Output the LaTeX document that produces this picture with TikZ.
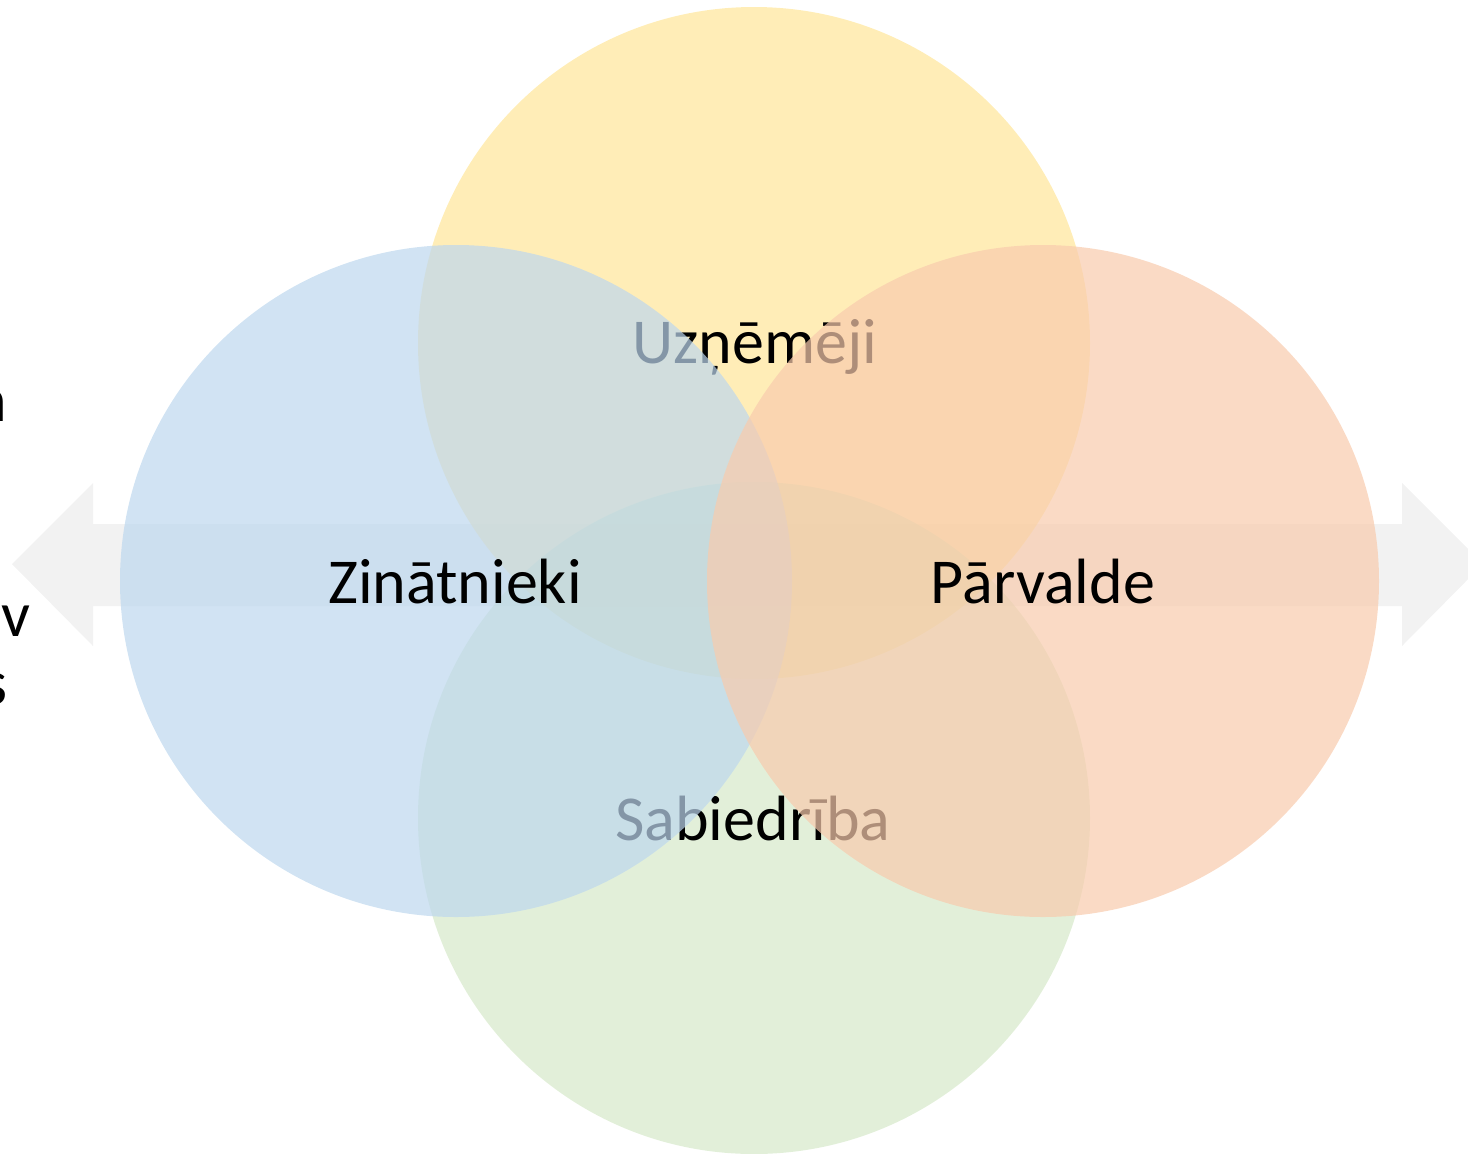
\documentclass[tikz,border=0pt]{standalone}
\usepackage{fontspec}
\setmainfont{Carlito}
\begin{document}
\begin{tikzpicture}[x=0.5pt,y=-0.5pt]
\definecolor{arrowgray}{HTML}{F2F2F2}
\definecolor{vyellow}{HTML}{FFE699}
\definecolor{vblue}{HTML}{BDD7EE}
\definecolor{vorange}{HTML}{F8CBAD}
\definecolor{vgreen}{HTML}{C5E0B4}
\tikzset{
  lbl/.style={font=\fontsize{32}{38}\selectfont, text=black, inner sep=0pt, anchor=base},
  venn/.style={circle, draw=none, minimum size=336pt, inner sep=0pt},
}
\useasboundingbox (0,0) rectangle (1468,1153);
\clip (0,0) rectangle (1468,1153);
% background double arrow
\fill[arrowgray] (12,564) -- (93,483) -- (93,524) -- (1402,524) -- (1402,483)
  -- (1483,564) -- (1402,646) -- (1402,606) -- (93,606) -- (93,646) -- cycle;
% clipped text fragments at left
\node[lbl, anchor=base east] (f1) at (8,421) {n};
\node[lbl, anchor=base east] (f2) at (31,636) {av};
\node[lbl, anchor=base east] (f3) at (8,704) {s};
% circles and labels
\node[venn, fill=vyellow, fill opacity=0.7] (cy) at (754,343) {};
\node[lbl] (ty) at (755,363) {Uzņēmēji};
\node[venn, fill=vgreen, fill opacity=0.5] (cg) at (754,818) {};
\node[lbl] (tg) at (753,840) {Sabiedrība};
\node[venn, fill=vblue, fill opacity=0.7] (cb) at (456,581) {};
\node[lbl] (tb) at (455,603) {Zinātnieki};
\node[venn, fill=vorange, fill opacity=0.7] (co) at (1043,581) {};
\node[lbl] (to) at (1043,603) {Pārvalde};
\end{tikzpicture}
\end{document}
